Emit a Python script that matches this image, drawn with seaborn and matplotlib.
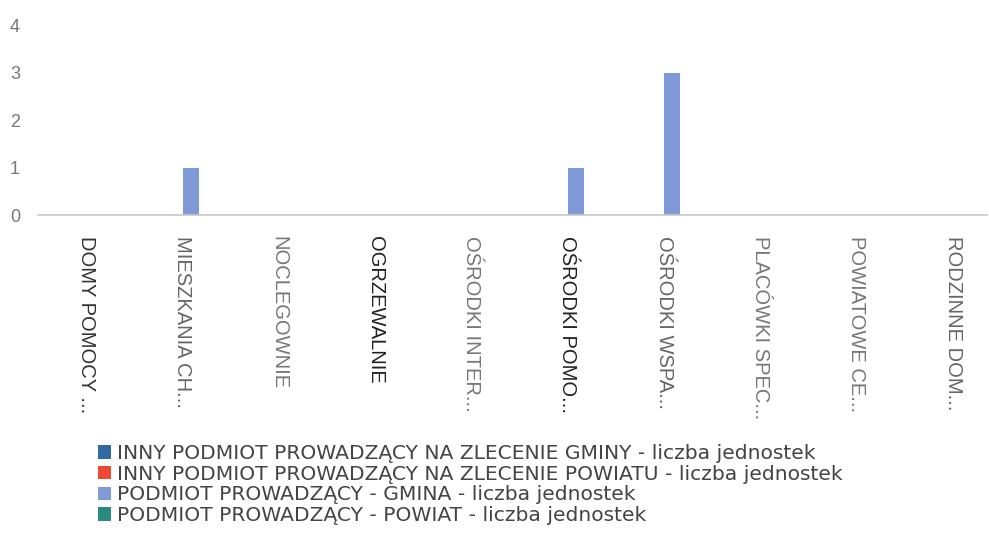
import numpy as np
import pandas as pd
import matplotlib
matplotlib.use("Agg")
import matplotlib.pyplot as plt
import seaborn as sns
from matplotlib.patches import Patch

# ----------------------------------------------------------
# Data
# ----------------------------------------------------------
categories = [
    "DOMY POMOCY ...",
    "MIESZKANIA CH...",
    "NOCLEGOWNIE",
    "OGRZEWALNIE",
    "OŚRODKI INTER...",
    "OŚRODKI POMO...",
    "OŚRODKI WSPA...",
    "PLACÓWKI SPEC...",
    "POWIATOWE CE...",
    "RODZINNE DOM...",
]

series_names = [
    "INNY PODMIOT PROWADZĄCY NA ZLECENIE GMINY - liczba jednostek",
    "INNY PODMIOT PROWADZĄCY NA ZLECENIE POWIATU - liczba jednostek",
    "PODMIOT PROWADZĄCY - GMINA - liczba jednostek",
    "PODMIOT PROWADZĄCY - POWIAT - liczba jednostek",
]

inny_gmina = [0, 0, 0, 0, 0, 0, 0, 0, 0, 0]
inny_powiat = [0, 0, 0, 0, 0, 0, 0, 0, 0, 0]
gmina = [0, 1, 0, 0, 0, 1, 3, 0, 0, 0]
powiat = [0, 0, 0, 0, 0, 0, 0, 0, 0, 0]

colors = ["#2f6aa3", "#ec4a35", "#7f9ad6", "#2a8a80"]
label_colors = ["#333333", "#666666", "#777777", "#222222", "#777777",
                "#222222", "#666666", "#777777", "#777777", "#666666"]

rows = []
for name, vals in zip(series_names, [inny_gmina, inny_powiat, gmina, powiat]):
    for cat, v in zip(categories, vals):
        rows.append({"kategoria": cat, "seria": name, "wartosc": v})
df = pd.DataFrame(rows)

# ----------------------------------------------------------
# Plot
# ----------------------------------------------------------
sns.set_style("white")
plt.rcParams["font.family"] = ["Liberation Sans", "DejaVu Sans"]

fig = plt.figure(figsize=(9.89, 5.37), dpi=100)
ax = fig.add_axes([38 / 989, 1 - 215 / 537, 949 / 989, 190 / 537])

sns.barplot(data=df, x="kategoria", y="wartosc", hue="seria",
            order=categories, hue_order=series_names,
            palette=colors, width=0.67, saturation=1,
            edgecolor="none", ax=ax, legend=False)

ax.set_xlim(-0.5, 9.35)
ax.set_ylim(0, 4)
ax.set_yticks([0, 1, 2, 3, 4])
ax.set_xlabel("")
ax.set_ylabel("")

for s in ["top", "right", "left"]:
    ax.spines[s].set_visible(False)
ax.spines["bottom"].set_color("#c8c8c8")
ax.spines["bottom"].set_linewidth(1.2)

ax.tick_params(axis="y", length=0, labelsize=13, labelcolor="#777777", pad=13)
ax.tick_params(axis="x", length=0, labelsize=14.5, pad=15)
ax.set_xticks(range(len(categories)))
ax.set_xticklabels(categories, rotation=-90, va="top", ha="center")
for lbl, c in zip(ax.get_xticklabels(), label_colors):
    lbl.set_color(c)

handles = [Patch(facecolor=c, edgecolor="none") for c in colors]
fig.legend(handles, series_names, loc="upper left",
           bbox_to_anchor=(90 / 989, 1 - 436 / 537),
           frameon=False, labelcolor="#444444",
           prop={"family": "DejaVu Sans", "size": 14.6},
           handlelength=0.64, handleheight=0.64, handletextpad=0.3,
           labelspacing=0.08, borderaxespad=0)

plt.savefig("out.png", dpi=100)
